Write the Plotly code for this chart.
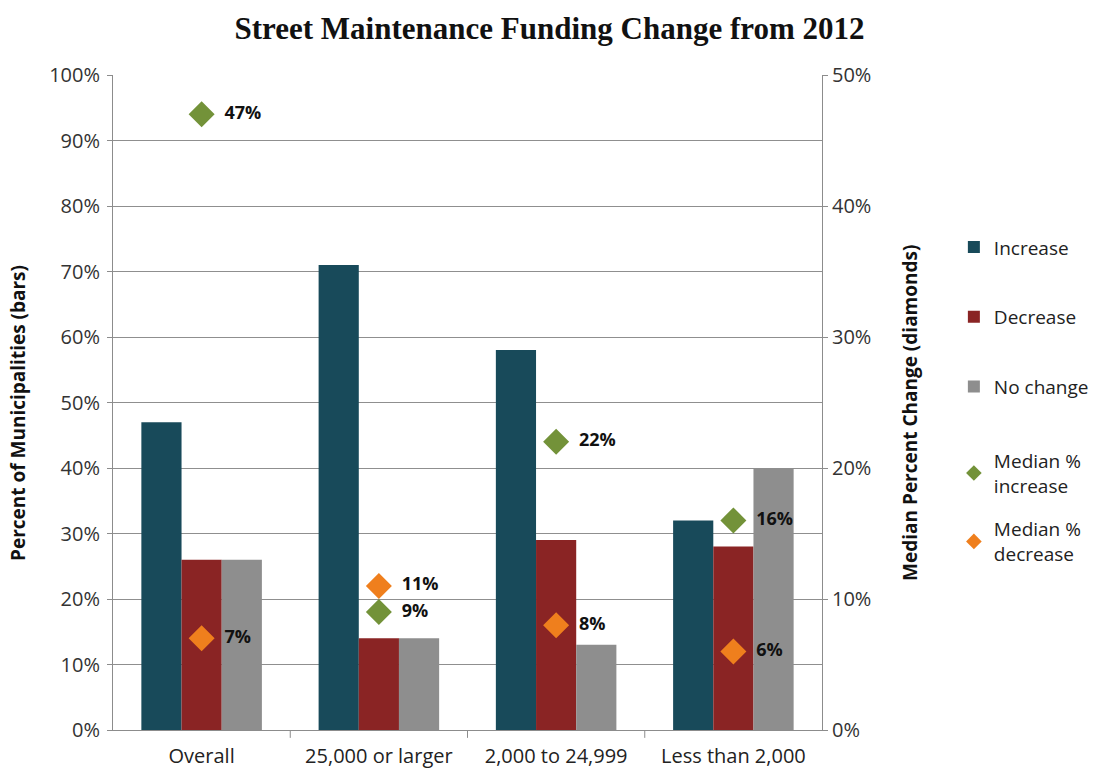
import plotly.graph_objects as go

categories = ["Overall", "25,000 or larger", "2,000 to 24,999", "Less than 2,000"]
pct_increase = [47, 71, 58, 32]
pct_decrease = [26, 14, 29, 28]
pct_no_change = [26, 14, 13, 40]
median_increase = [47, 9, 22, 16]
median_decrease = [7, 11, 8, 6]

left_ticks = list(range(0, 101, 10))
right_ticks = list(range(0, 51, 10))

body_font = "'Open Sans', Lato, sans-serif"

fig = go.Figure()

bar_series = [
    ("Increase", pct_increase, "#184a5a"),
    ("Decrease", pct_decrease, "#8a2424"),
    ("No change", pct_no_change, "#8e8e8e"),
]
for i, (name, vals, color) in enumerate(bar_series):
    fig.add_trace(go.Bar(
        x=categories, y=vals, name=name,
        marker=dict(color=color, line=dict(width=0)),
        legendgroup=f"g{i}", legend="legend",
        hoverinfo="skip",
    ))

diamond_series = [
    ("Median %<br>increase", median_increase, "#739239"),
    ("Median %<br>decrease", median_decrease, "#ef7f1d"),
]
for j, (name, vals, color) in enumerate(diamond_series):
    fig.add_trace(go.Scatter(
        x=categories, y=vals, name=name, yaxis="y2",
        mode="markers+text",
        marker=dict(symbol="diamond", size=20, color=color,
                    line=dict(width=0)),
        text=[f"&nbsp;&nbsp;<b>{v}%</b>" for v in vals],
        textposition="middle right",
        textfont=dict(family=body_font, size=18, color="#111111"),
        legendgroup=f"d{j}", legend="legend2",
        hoverinfo="skip",
    ))

legend_style = dict(
    xanchor="left", yanchor="top",
    font=dict(family=body_font, size=19, color="#222222"),
    itemsizing="constant", bgcolor="rgba(0,0,0,0)",
)

fig.update_layout(
    width=1099, height=771,
    margin=dict(l=113, r=277, t=75, b=41, autoexpand=False),
    paper_bgcolor="white", plot_bgcolor="white",
    barmode="group", bargap=0.32, bargroupgap=0,
    font=dict(family=body_font, size=18, color="#222222"),
    title=dict(
        text="<b>Street Maintenance Funding Change from 2012</b>",
        font=dict(family="'Liberation Serif', 'DejaVu Serif', serif",
                  size=31, color="#111111"),
        x=0.5, xanchor="center", y=0.963, yanchor="middle",
    ),
    xaxis=dict(
        type="category", automargin=False,
        showgrid=False,
        showline=True, linecolor="#8c8c8c", linewidth=1,
        ticks="", tickfont=dict(size=20, color="#222222"),
        ticklabelstandoff=8,
        range=[-0.5, 3.5],
    ),
    yaxis=dict(
        range=[0, 100], tickvals=left_ticks, automargin=False,
        ticktext=[f"{v}%" for v in left_ticks],
        showgrid=True, gridcolor="#8f8f8f", gridwidth=1,
        showline=True, linecolor="#8c8c8c", linewidth=1,
        ticks="outside", ticklen=5, tickcolor="#8c8c8c",
        tickfont=dict(size=20, color="#333333"), zeroline=False,
        ticklabelstandoff=3,
    ),
    yaxis2=dict(
        range=[0, 50], tickvals=right_ticks, automargin=False,
        ticktext=[f"{v}%" for v in right_ticks],
        overlaying="y", side="right",
        showgrid=False,
        showline=True, linecolor="#8c8c8c", linewidth=1,
        ticks="outside", ticklen=5, tickcolor="#8c8c8c",
        tickfont=dict(size=20, color="#333333"), zeroline=False,
    ),
    legend=dict(x=1.186, y=0.766, tracegroupgap=42, **legend_style),
    legend2=dict(x=1.186, y=0.44, tracegroupgap=16, **legend_style),
    showlegend=True,
)

# Separator ticks between the category groups
for k in range(1, len(categories)):
    fig.add_shape(type="line", xref="x", yref="paper",
                  x0=k - 0.5, x1=k - 0.5, y0=0, y1=-0.012,
                  line=dict(color="#8c8c8c", width=1))

fig.add_annotation(
    text="<b>Percent of Municipalities (bars)</b>",
    xref="paper", yref="paper", x=-0.134, y=0.484,
    xanchor="center", yanchor="middle", textangle=-90, showarrow=False,
    font=dict(family=body_font, size=19, color="#111111"),
)
fig.add_annotation(
    text="<b>Median Percent Change (diamonds)</b>",
    xref="paper", yref="paper", x=1.124, y=0.484,
    xanchor="center", yanchor="middle", textangle=-90, showarrow=False,
    font=dict(family=body_font, size=19, color="#111111"),
)

fig.write_html("out.html")
